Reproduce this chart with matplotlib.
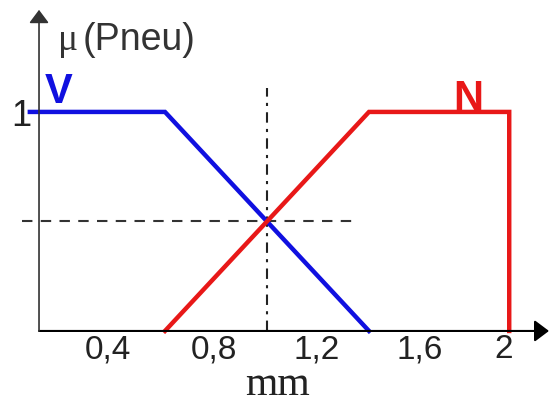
import matplotlib
matplotlib.use('Agg')
from matplotlib import pyplot as plt

###########################
# Values #
###########################

v_x = [0.07, 0.6, 1.4]
v_y = [1, 1, 0]
n_x = [0.6, 1.4, 1.95, 1.95]
n_y = [0, 1, 1, 0]
tick_vals = [0.4, 0.8, 1.2, 1.6, 2.0]
tick_text = ['0,4', '0,8', '1,2', '1,6', '2']
tick_shift = [-0.024, -0.008, -0.004, 0.0, -0.071]
cross_x = 1.0
cross_y = 0.5

blue = '#1010e0'
red = '#e81818'
y_axis_x = 0.106

################
# Figure setup #
################

fig = plt.figure(figsize=(5.49, 4.12), dpi=100)
ax = fig.add_axes([0, 0, 1, 1])
ax.set_xlim(-0.047, 2.106)
ax.set_ylim(-0.37, 1.511)
ax.axis('off')

# axes with arrows
arrow = '-|>,head_length=0.4,head_width=0.3'
ax.annotate('', xy=(2.106, 0), xytext=(y_axis_x, 0),
            arrowprops=dict(arrowstyle=arrow, color='black', lw=1.5,
                            mutation_scale=22, shrinkA=0, shrinkB=0))
ax.annotate('', xy=(y_axis_x, 1.466), xytext=(y_axis_x, 0),
            arrowprops=dict(arrowstyle=arrow, color='#333333', lw=1.2,
                            mutation_scale=20, shrinkA=0, shrinkB=0))

# helper lines through the crossing
ax.plot([0.04, 1.345], [cross_y, cross_y], color='#333333', lw=1.5,
        dashes=(5, 4))
ax.plot([cross_x, cross_x], [0, 1.11], color='#222222', lw=1.5,
        dashes=(5, 3, 1.5, 3))

# membership functions
ax.plot(v_x, v_y, color=blue, lw=3.2, solid_joinstyle='miter')
ax.plot(n_x, n_y, color=red, lw=3.2, solid_joinstyle='miter')

#########
# Texts #
#########

for v, t, s in zip(tick_vals, tick_text, tick_shift):
    ax.text(v + s, -0.085, t, ha='center', va='center', fontsize=24,
            family='Liberation Sans', color='#222222')
ax.text(0.075, 0.98, '1', ha='right', va='center', fontsize=26,
        family='Liberation Sans', color='#222222')
ax.text(1.04, -0.293, 'mm', ha='center', va='baseline', fontsize=30,
        family='Liberation Serif', color='#222222')
ax.text(0.18, 1.283, '\u03bc', ha='left', va='baseline', fontsize=27,
        family='Liberation Serif', color='#333333')
ax.text(0.278, 1.283, '(Pneu)', ha='left', va='baseline', fontsize=27,
        family='Liberation Sans', color='#333333')
ax.text(0.129, 1.041, 'V', ha='left', va='baseline', fontsize=30,
        family='Liberation Sans', weight='bold', color=blue)
ax.text(1.729, 1.009, 'N', ha='left', va='baseline', fontsize=30,
        family='Liberation Sans', weight='bold', color=red)

fig.savefig('out.png', dpi=100)
